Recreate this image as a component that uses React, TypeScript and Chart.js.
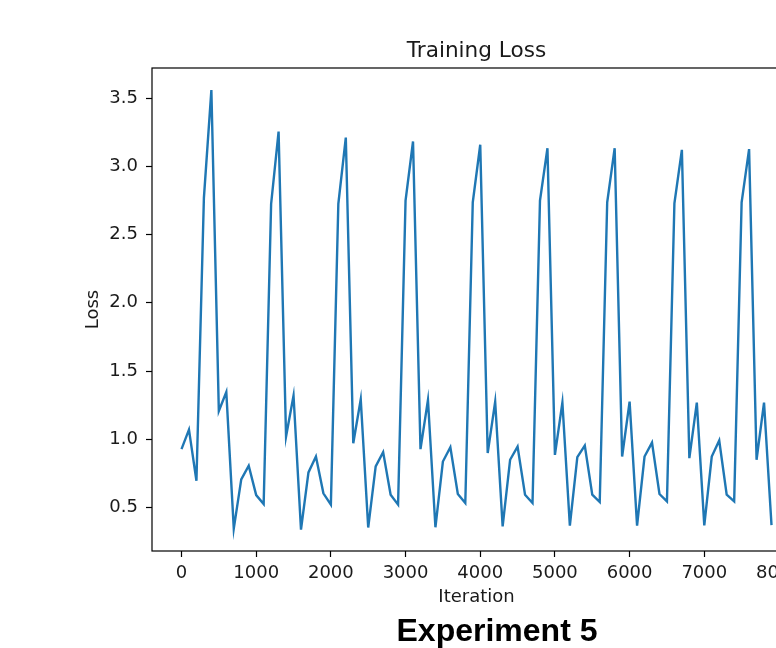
import React, { useEffect, useRef } from "react";
import { Chart, registerables } from "chart.js";

Chart.register(...registerables);

const iterations = [
  0, 100, 200, 300, 400, 500, 600, 700, 800, 900,
  1000, 1100, 1200, 1300, 1400, 1500, 1600, 1700, 1800, 1900,
  2000, 2100, 2200, 2300, 2400, 2500, 2600, 2700, 2800, 2900,
  3000, 3100, 3200, 3300, 3400, 3500, 3600, 3700, 3800, 3900,
  4000, 4100, 4200, 4300, 4400, 4500, 4600, 4700, 4800, 4900,
  5000, 5100, 5200, 5300, 5400, 5500, 5600, 5700, 5800, 5900,
  6000, 6100, 6200, 6300, 6400, 6500, 6600, 6700, 6800, 6900,
  7000, 7100, 7200, 7300, 7400, 7500, 7600, 7700, 7800, 7900,
];

const loss = [
  0.927, 1.07, 0.695, 2.77, 3.56, 1.207, 1.345, 0.344, 0.705, 0.805,
  0.59, 0.525, 2.725, 3.256, 1.02, 1.32, 0.337, 0.756, 0.873, 0.603,
  0.52, 2.725, 3.212, 0.97, 1.292, 0.352, 0.8, 0.905, 0.593, 0.52,
  2.749, 3.183, 0.927, 1.287, 0.354, 0.836, 0.941, 0.598, 0.532, 2.737,
  3.159, 0.898, 1.275, 0.361, 0.849, 0.946, 0.593, 0.532, 2.749, 3.134,
  0.885, 1.268, 0.366, 0.868, 0.953, 0.593, 0.539, 2.737, 3.134, 0.873,
  1.275, 0.366, 0.873, 0.975, 0.598, 0.544, 2.73, 3.122, 0.861, 1.268,
  0.368, 0.873, 0.99, 0.593, 0.544, 2.737, 3.127, 0.849, 1.268, 0.37,
];

const xTickValues = [0, 1000, 2000, 3000, 4000, 5000, 6000, 7000, 8000];
const yTickValues = [0.5, 1.0, 1.5, 2.0, 2.5, 3.0, 3.5];

const chartTitle = "Training Loss";
const xLabel = "Iteration";
const yLabel = "Loss";
const caption = "Experiment 5";

const FONT = "'DejaVu Sans', sans-serif";
const TEXT = "#1a1a1a";

const boxPlugin = {
  id: "boxPlugin",
  afterDraw(chart: any) {
    const { ctx, chartArea } = chart;
    ctx.save();
    ctx.strokeStyle = "#000";
    ctx.lineWidth = 1.2;
    ctx.strokeRect(chartArea.left, chartArea.top, chartArea.right - chartArea.left, chartArea.bottom - chartArea.top);
    // axes title, centred over the plotting area like matplotlib
    ctx.fillStyle = TEXT;
    ctx.font = `21.6px ${FONT}`;
    ctx.textAlign = "center";
    ctx.textBaseline = "alphabetic";
    ctx.fillText(chartTitle, (chartArea.left + chartArea.right) / 2, chartArea.top - 11.3);
    ctx.restore();
  },
};

export default function App() {
  const canvasRef = useRef<HTMLCanvasElement | null>(null);

  useEffect(() => {
    if (!canvasRef.current) return;
    const chart = new Chart(canvasRef.current, {
      type: "line",
      data: {
        datasets: [
          {
            label: "loss",
            data: iterations.map((it, i) => ({ x: it, y: loss[i] })),
            borderColor: "#1f77b4",
            borderWidth: 2.4,
            pointRadius: 0,
            tension: 0,
            fill: false,
          },
        ],
      },
      options: {
        responsive: false,
        animation: false,
        layout: { padding: { left: 0, right: 152, top: 68, bottom: 0 } },
        plugins: {
          legend: { display: false },
          tooltip: { enabled: false },
          title: { display: false },
        },
        scales: {
          x: {
            type: "linear",
            min: -395,
            max: 8295,
            afterBuildTicks: (s: any) => {
              s.ticks = xTickValues.map((v) => ({ value: v }));
            },
            afterFit: (s: any) => {
              s.height = 64;
            },
            grid: {
              display: true,
              drawOnChartArea: false,
              drawTicks: true,
              tickLength: 6,
              tickColor: "#000",
              tickWidth: 1.2,
            },
            border: { display: false },
            ticks: {
              autoSkip: false,
              maxRotation: 0,
              padding: 6,
              color: TEXT,
              font: { family: FONT, size: 18 },
              callback: (v: any) => String(v),
            },
            title: {
              display: true,
              text: xLabel,
              color: TEXT,
              font: { family: FONT, size: 18, lineHeight: 1.2 },
              padding: { top: 0, bottom: 6.5 },
            },
          },
          y: {
            type: "linear",
            min: 0.18,
            max: 3.722,
            afterBuildTicks: (s: any) => {
              s.ticks = yTickValues.map((v) => ({ value: v }));
            },
            afterFit: (s: any) => {
              s.width = 152;
            },
            grid: {
              display: true,
              drawOnChartArea: false,
              drawTicks: true,
              tickLength: 6,
              tickColor: "#000",
              tickWidth: 1.2,
            },
            border: { display: false },
            ticks: {
              autoSkip: false,
              padding: 8,
              color: TEXT,
              font: { family: FONT, size: 18 },
              callback: (v: any) => Number(v).toFixed(1),
            },
            title: {
              display: true,
              text: yLabel,
              color: TEXT,
              font: { family: FONT, size: 18, lineHeight: 1.2 },
              padding: { top: 82.5, bottom: 0 },
            },
          },
        },
      },
      plugins: [boxPlugin],
    });
    return () => chart.destroy();
  }, []);

  return (
    <div
      style={{
        position: "fixed",
        left: 0,
        top: 0,
        width: 776,
        height: 648,
        overflow: "hidden",
        background: "#fff",
      }}
    >
      <canvas
        ref={canvasRef}
        width={953}
        height={615}
        style={{ position: "absolute", left: 0, top: 0, width: 953, height: 615 }}
      />
      <div
        style={{
          position: "absolute",
          left: 297,
          width: 400,
          top: 611,
          textAlign: "center",
          fontFamily: "'Liberation Sans', Arial, sans-serif",
          fontWeight: "bold",
          fontSize: 32,
          lineHeight: "38px",
          color: "#000",
          whiteSpace: "nowrap",
        }}
      >
        {caption}
      </div>
    </div>
  );
}
